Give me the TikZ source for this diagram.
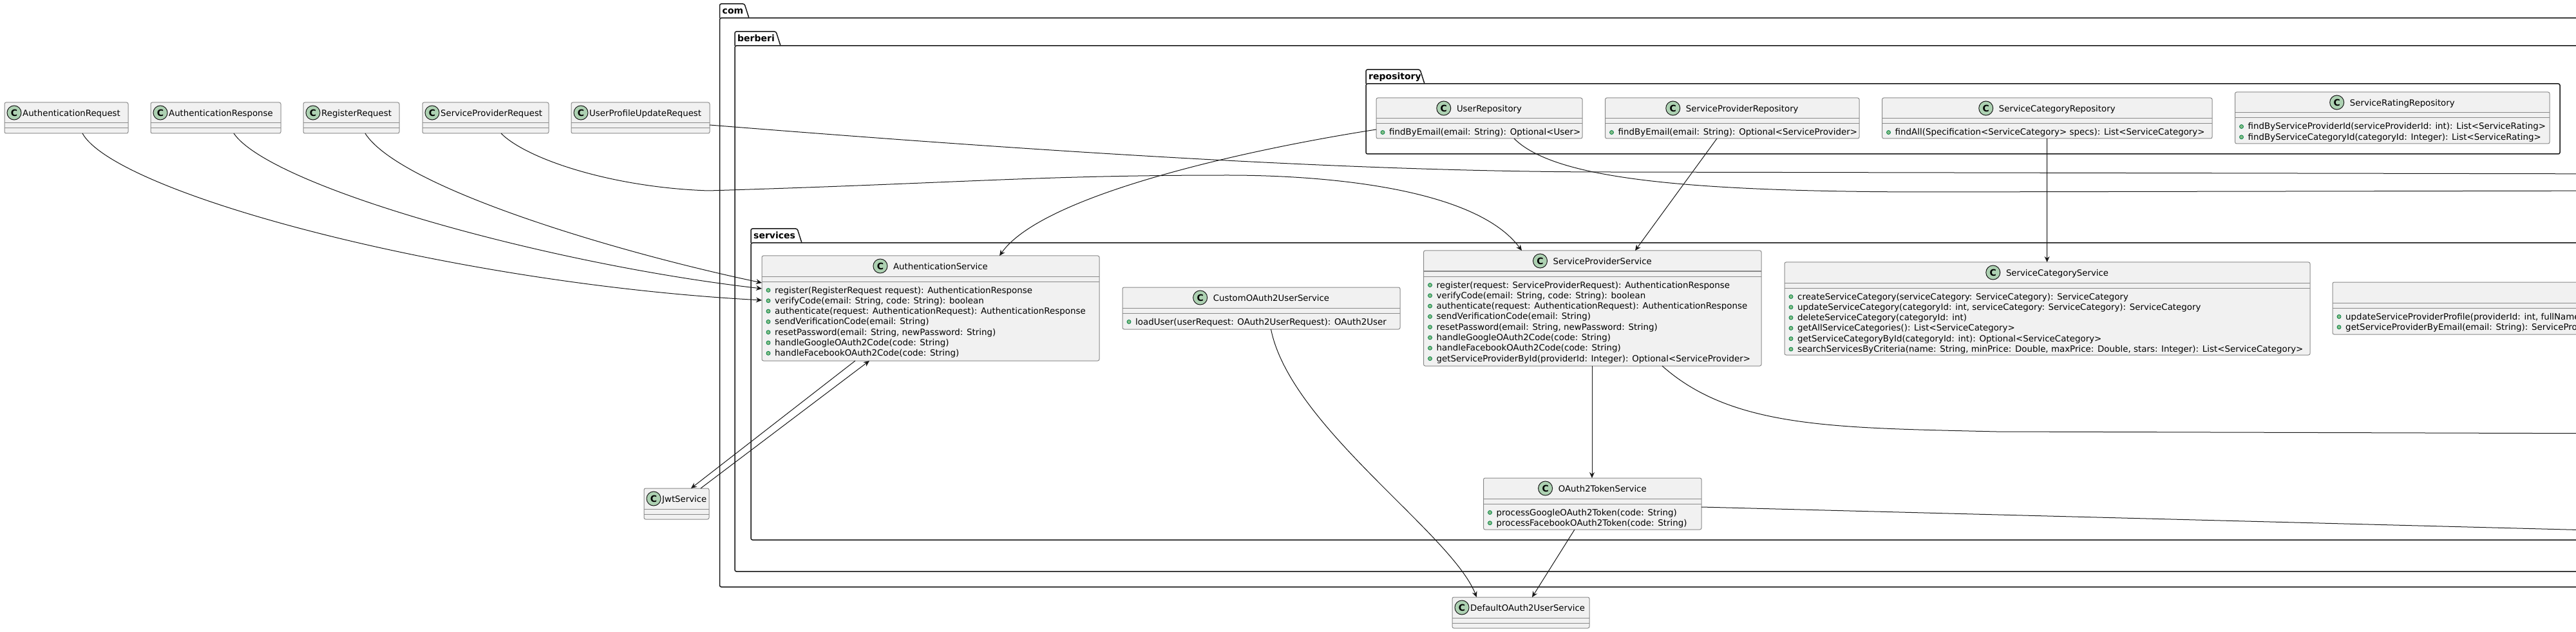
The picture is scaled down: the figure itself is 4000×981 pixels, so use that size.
\documentclass[tikz,border=0pt]{standalone}
\usepackage{fontspec}
\setmainfont{DejaVu Sans}
\usetikzlibrary{positioning}
\usetikzlibrary{arrows.meta}
\usetikzlibrary{calc}
\definecolor{classfill}{HTML}{F1F1F1}
\definecolor{classborder}{HTML}{8A8A8A}
\definecolor{spotfill}{HTML}{ADD1B2}
\definecolor{dotfill}{HTML}{84BE84}
\definecolor{dotborder}{HTML}{038048}
\definecolor{ink}{HTML}{181818}
\tikzset{
	classbox/.style={
		rectangle,
		draw=classborder,
		fill=classfill,
		line width=1pt,
		rounded corners=2.5pt,
		inner sep=0pt,
		outer sep=0pt
	},
	classline/.style={draw=classborder, line width=1pt},
	classname/.style={inner sep=0pt, font=\fontsize{13.3pt}{16pt}\selectfont},
	method/.style={inner sep=0pt, anchor=base west, font=\fontsize{13.4pt}{16.3pt}\selectfont},
	spot/.style={
		circle,
		draw=ink,
		fill=spotfill,
		line width=1pt,
		minimum size=22pt,
		inner sep=0pt,
		font=\fontsize{14pt}{14pt}\selectfont\bfseries
	},
	pkg/.style={draw=ink, line width=1.5pt},
	pkgname/.style={inner sep=0pt, anchor=base west, font=\fontsize{14pt}{16pt}\selectfont\bfseries},
	edge/.style={draw=ink, line width=1pt},
	dep/.style={edge, -{Stealth[length=9pt,width=8pt,inset=3pt]}}
}
% box with its two compartment lines
\newcommand{\umlbox}[5]{%
	\node[classbox, anchor=north west, minimum width=#4pt, minimum height=#5pt](#1) at (#2,#3){};
	\draw[classline] ([yshift=-32pt]#1.north west) -- ([yshift=-32pt]#1.north east);
	\draw[classline] ([yshift=-40pt]#1.north west) -- ([yshift=-40pt]#1.north east);
}
\newcommand{\umlclass}[6]{%
	\umlbox{#1}{#2}{#3}{#4}{#5}
	\node[classname, anchor=base](#1-t) at ([xshift=15.5pt,yshift=-21.5pt]#1.north){#6};
	\node[spot](#1-c) at ([xshift=-20pt,yshift=5.5pt]#1-t.base west){C};
}
\newcommand{\umldto}[5]{%
	\umlbox{#1}{#2}{#3}{#4}{48}
	\node[classname, anchor=base west](#1-t) at ([xshift=28pt,yshift=-21.5pt]#1.north west){#5};
	\node[spot](#1-c) at ([xshift=15pt,yshift=-16pt]#1.north west){C};
}
\newcommand{\umlmethods}[2]{%
	\foreach \m [count=\i, evaluate=\i as \dy using 58+(\i-1)*16.3, evaluate=\i as \ddy using 53.5+(\i-1)*16.3] in {#2}{
		\node[method](#1-m\i) at ([xshift=20pt,yshift=-\dy pt]#1.north west){\m};
		\draw[fill=dotfill, draw=dotborder, line width=.8pt] ([xshift=10pt,yshift=-\ddy pt]#1.north west) circle (3pt);
	}
}
\newcommand{\umlpackage}[7]{%
	\draw[pkg, rounded corners=2.5pt] (#2,#3+22) -- (#2,#3) -- (#2+#4,#3) -- (#2+#4+7,#3+22);
	\draw[pkg, rounded corners=2.5pt] (#2,#3+22) rectangle (#5,#6);
	\node[pkgname](#1) at (#2+4,#3+15.5){#7};
}
\begin{document}
\begin{tikzpicture}[x=1pt, y=-1pt]
	\useasboundingbox (0,0) rectangle (4000,981);
	\clip (0,0) rectangle (4000,981);
	\fill[white] (0,0) rectangle (4000,981);
	
	\umlpackage{com}{1117.5}{6}{38.5}{4020}{911}{com}
	\umlpackage{berberi}{1141}{49}{64}{4020}{887}{berberi}
	\umlpackage{repository}{2121}{108}{84}{3975}{239}{repository}
	\umlpackage{services}{1166}{355}{72}{4020}{838}{services}
	
	\umldto{AuthReq}{7}{159}{192}{AuthenticationRequest}
	\umldto{AuthResp}{234}{159}{202}{AuthenticationResponse}
	\umldto{RegReq}{471}{159}{149}{RegisterRequest}
	\umldto{SPReq}{656}{159}{196}{ServiceProviderRequest}
	\umldto{UPUReq}{887}{159}{215}{UserProfileUpdateRequest}
	\umldto{Jwt}{1000}{758}{101}{JwtService}
	\umldto{DefaultOAuth}{2255}{927}{213}{DefaultOAuth2UserService}
	
	\umlclass{UserRepo}{2137}{152}{320}{63}{UserRepository}
	\umlmethods{UserRepo}{{findByEmail(email: String): Optional<User>}}
	\umlclass{SPRepo}{2492.5}{152}{394.5}{63}{ServiceProviderRepository}
	\umlmethods{SPRepo}{{findByEmail(email: String): Optional<ServiceProvider>}}
	\umlclass{SCRepo}{2922.5}{152}{512.5}{63}{ServiceCategoryRepository}
	\umlmethods{SCRepo}{{findAll(Specification<ServiceCategory> specs): List<ServiceCategory>}}
	\umlclass{SRRepo}{3470.5}{143}{488.5}{80}{ServiceRatingRepository}
	\umlmethods{SRRepo}{{findByServiceProviderId(serviceProviderId: int): List<ServiceRating>},
		{findByServiceCategoryId(categoryId: Integer): List<ServiceRating>}}
	
	\umlclass{AuthService}{1183}{397}{524}{163}{AuthenticationService}
	\umlmethods{AuthService}{{register(RegisterRequest request): AuthenticationResponse},
		{verifyCode(email: String, code: String): boolean},
		{authenticate(request: AuthenticationRequest): AuthenticationResponse},
		{sendVerificationCode(email: String)},
		{resetPassword(email: String, newPassword: String)},
		{handleGoogleOAuth2Code(code: String)},
		{handleFacebookOAuth2Code(code: String)}}
	\umlclass{CustomOAuth}{1743}{446}{431}{65}{CustomOAuth2UserService}
	\umlmethods{CustomOAuth}{{loadUser(userRequest: OAuth2UserRequest): OAuth2User}}
	\umlclass{SPService}{2210.5}{389}{524.5}{179}{ServiceProviderService}
	\umlmethods{SPService}{{register(request: ServiceProviderRequest): AuthenticationResponse},
		{verifyCode(email: String, code: String): boolean},
		{authenticate(request: AuthenticationRequest): AuthenticationResponse},
		{sendVerificationCode(email: String)},
		{resetPassword(email: String, newPassword: String)},
		{handleGoogleOAuth2Code(code: String)},
		{handleFacebookOAuth2Code(code: String)},
		{getServiceProviderById(providerId: Integer): Optional<ServiceProvider>}}
	\umlclass{SCService}{2771}{407}{816}{144}{ServiceCategoryService}
	\umlmethods{SCService}{{createServiceCategory(serviceCategory: ServiceCategory): ServiceCategory},
		{updateServiceCategory(categoryId: int, serviceCategory: ServiceCategory): ServiceCategory},
		{deleteServiceCategory(categoryId: int)},
		{getAllServiceCategories(): List<ServiceCategory>},
		{getServiceCategoryById(categoryId: int): Optional<ServiceCategory>},
		{searchServicesByCriteria(name: String, minPrice: Double, maxPrice: Double, stars: Integer): List<ServiceCategory>}}
	\umlbox{ProfileService}{3622}{438}{800}{81}
	\umlmethods{ProfileService}{{updateServiceProviderProfile(providerId: int, fullName},
		{getServiceProviderByEmail(email: String): ServicePro}}
	\umlclass{OAuthToken}{2303.5}{742}{338.5}{80}{OAuth2TokenService}
	\umlmethods{OAuthToken}{{processGoogleOAuth2Token(code: String)},
		{processFacebookOAuth2Token(code: String)}}
	
	\coordinate (offUPU) at (4100,270);
	\coordinate (offUserRepo) at (4100,296);
	\coordinate (offSPService) at (4100,673);
	\coordinate (offToken) at (4100,825);
	
	\draw[dep] ([xshift=121pt]AuthReq.south west) .. controls +(52,93) and +(-483,-26) .. ([yshift=-69pt]AuthService.north west);
	\draw[dep] ([xshift=129pt]AuthResp.south west) .. controls +(57,83) and +(-333,-38) .. ([yshift=-51pt]AuthService.north west);
	\draw[dep] ([xshift=96pt]RegReq.south west) .. controls +(53,83) and +(-233,-49) .. ([yshift=-42pt]AuthService.north west);
	\draw[dep] ([xshift=122pt]SPReq.south west) .. controls +(40,40) and +(-150,-5) .. (1100,296)
		.. controls +(400,-12) and +(-300,0) .. (1907,272)
		.. controls +(143,0) and +(-73,-99) .. ([xshift=152.5pt]SPService.north west);
	\draw[edge] ([yshift=-35pt]UPUReq.north east) .. controls +(500,40) and +(-400,0) .. (2500,267) -- (offUPU);
	\draw[dep] ([yshift=-49pt]UserRepo.north west) .. controls +(-187,29) and +(68,-97) .. ([xshift=369pt]AuthService.north west);
	\draw[edge] ([xshift=214pt]UserRepo.south west) .. controls +(60,60) and +(-400,0) .. (3000,298) -- (offUserRepo);
	\draw[dep] ([xshift=173.5pt]SPRepo.south west) -- ([xshift=328.5pt]SPService.north west);
	\draw[dep] ([xshift=256pt]SCRepo.south west) -- ([xshift=407.6pt]SCService.north west);
	\draw[dep] ([xshift=145pt]AuthService.south west) -- ([xshift=73pt]Jwt.north west);
	\draw[dep] ([xshift=88pt]Jwt.north west) -- ([xshift=167pt]AuthService.south west);
	\draw[dep] ([xshift=230.5pt]CustomOAuth.south west) .. controls +(30,150) and +(-40,-100) .. ([xshift=38pt]DefaultOAuth.north west);
	\draw[dep] ([xshift=141.5pt]OAuthToken.south west) -- ([xshift=124pt]DefaultOAuth.north west);
	\draw[dep] ([xshift=261.5pt]SPService.south west) -- ([xshift=168.5pt]OAuthToken.north west);
	\draw[edge] ([xshift=370.5pt]SPService.south west) .. controls +(109,97) and +(-250,-6) .. (3100,670) -- (offSPService);
	\draw[edge] ([yshift=-45pt]OAuthToken.north east) -- (offToken);
\end{tikzpicture}
\end{document}
